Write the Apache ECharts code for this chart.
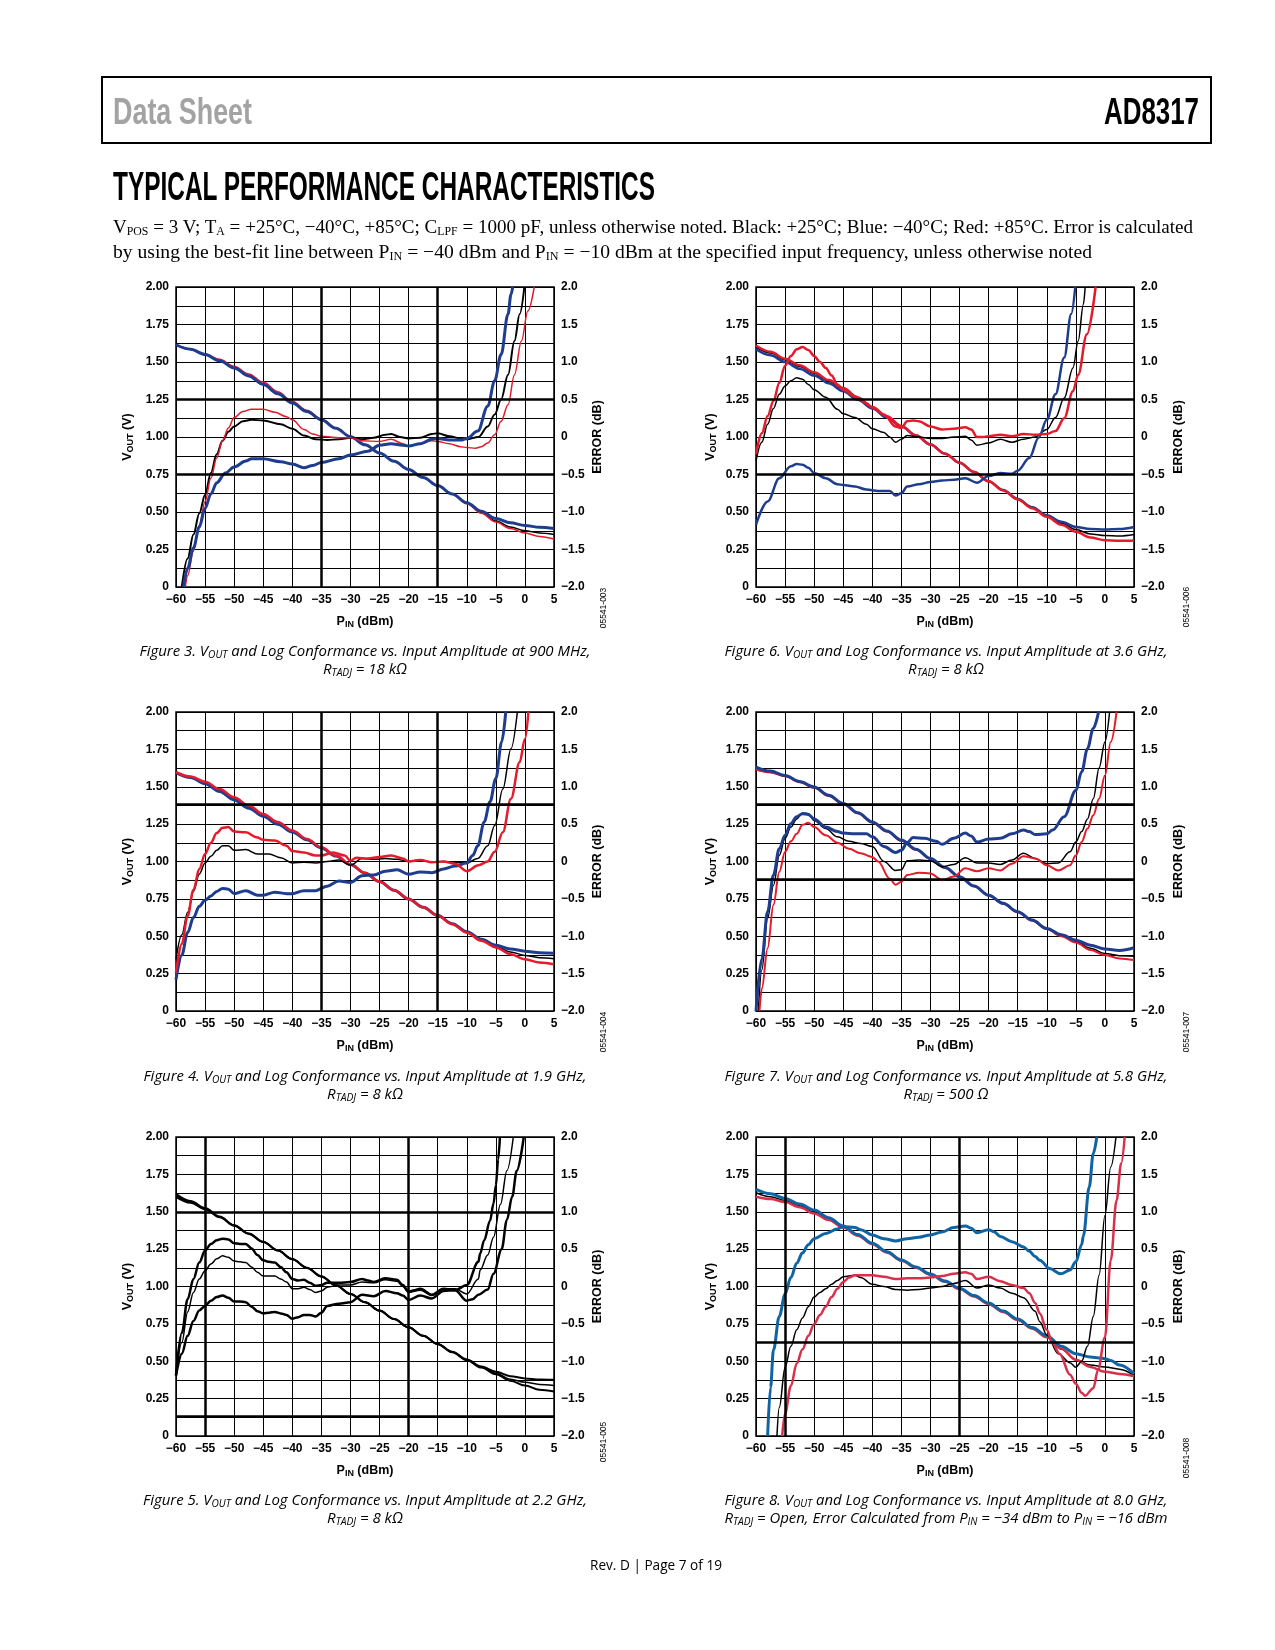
<!DOCTYPE html>
<html><head><meta charset="utf-8">
<script src="https://cdn.jsdelivr.net/npm/echarts@6/dist/echarts.min.js"></script>
<style>
html,body{margin:0;padding:0;background:#fff;}
#wrap{position:relative;width:1275px;height:1650px;overflow:hidden;background:#fff;}
#chart{position:absolute;left:0;top:0;width:1275px;height:1650px;}
#ov{position:absolute;left:0;top:0;width:1275px;height:1650px;pointer-events:none;}
</style></head>
<body><div id="wrap"><div id="chart"></div>
<svg id="ov" xmlns="http://www.w3.org/2000/svg" width="1275" height="1650"></svg></div>
<script>
// ---------------- axis ranges / ticks ----------------
const pinMin = -60, pinMax = 5, pinStep = 5;
const voutMin = 0, voutMax = 2, voutStep = 0.125;
const errMin = -2, errMax = 2, errStep = 0.25;

// ---------------- Figure 3 (900 MHz) ----------------
const f3_vout_black = [[-60,1.615],[-57.5,1.585],[-55,1.55],[-52.5,1.51],[-50,1.462],[-47.5,1.41],[-45,1.355],[-42.5,1.292],[-40,1.23],[-37.5,1.173],[-35,1.117],[-32.5,1.06],[-30,1.003],[-27.5,0.948],[-25,0.894],[-22.5,0.838],[-20,0.783],[-17.5,0.73],[-15,0.676],[-12.5,0.62],[-10,0.56],[-7.5,0.5],[-5,0.44],[-2.5,0.4],[0,0.375],[2.5,0.36],[5,0.35]];
const f3_vout_red = [[-60,1.615],[-57.5,1.587],[-55,1.553],[-52.5,1.518],[-50,1.472],[-47.5,1.42],[-45,1.366],[-42.5,1.302],[-40,1.238],[-37.5,1.178],[-35,1.12],[-32.5,1.062],[-30,1.003],[-27.5,0.948],[-25,0.894],[-22.5,0.838],[-20,0.783],[-17.5,0.73],[-15,0.676],[-12.5,0.62],[-10,0.555],[-7.5,0.492],[-5,0.433],[-2.5,0.39],[0,0.36],[2.5,0.337],[5,0.32]];
const f3_vout_blue = [[-60,1.615],[-57.5,1.585],[-55,1.55],[-52.5,1.508],[-50,1.46],[-47.5,1.407],[-45,1.35],[-42.5,1.288],[-40,1.226],[-37.5,1.17],[-35,1.115],[-32.5,1.058],[-30,1.002],[-27.5,0.948],[-25,0.894],[-22.5,0.838],[-20,0.783],[-17.5,0.73],[-15,0.676],[-12.5,0.62],[-10,0.562],[-7.5,0.505],[-5,0.457],[-2.5,0.428],[0,0.41],[2.5,0.398],[5,0.39]];
const f3_err_black = [[-59,-2.0],[-58,-1.62],[-57,-1.3],[-56,-1.02],[-55,-0.77],[-54,-0.48],[-53,-0.23],[-52,-0.05],[-51,0.07],[-50,0.14],[-48.5,0.21],[-47,0.23],[-45,0.22],[-42,0.17],[-40,0.11],[-38,0.02],[-36,-0.03],[-34,-0.04],[-32,-0.03],[-30,-0.01],[-28,-0.03],[-26,-0.01],[-24,0.03],[-23,0.04],[-21.5,0.0],[-20,-0.02],[-18,-0.01],[-16,0.04],[-15,0.05],[-13,0.01],[-11,-0.02],[-10,-0.03],[-8,0.0],[-6.4,0.14],[-5.2,0.3],[-4.1,0.5],[-2.9,0.83],[-1.8,1.28],[-0.9,1.64],[-0.1,2.0]];
const f3_err_red = [[-58.4,-2.0],[-58,-1.85],[-57,-1.52],[-56,-1.18],[-55,-0.86],[-54,-0.55],[-53,-0.28],[-52,-0.05],[-51,0.12],[-50,0.26],[-48.5,0.34],[-47,0.37],[-45,0.37],[-43,0.33],[-41,0.27],[-40,0.23],[-38,0.1],[-36.5,0.04],[-35,0.01],[-32,-0.01],[-30,-0.01],[-28,-0.05],[-25,-0.06],[-23,-0.03],[-21,-0.09],[-20,-0.12],[-18,-0.09],[-16,-0.05],[-15,-0.06],[-13,-0.09],[-11,-0.13],[-10,-0.14],[-8.5,-0.15],[-7.5,-0.13],[-6.4,-0.08],[-5.2,0.03],[-4.1,0.21],[-2.9,0.43],[-1.8,0.83],[-0.6,1.28],[0.5,1.68],[1.6,2.0]];
const f3_err_blue = [[-58.7,-2.0],[-58,-1.75],[-57,-1.48],[-56,-1.2],[-55,-0.95],[-54,-0.76],[-53,-0.61],[-51.5,-0.48],[-50,-0.4],[-48,-0.32],[-47,-0.29],[-45,-0.29],[-42,-0.33],[-40,-0.36],[-38,-0.41],[-36.5,-0.38],[-35,-0.34],[-32,-0.29],[-30,-0.24],[-27,-0.19],[-25,-0.11],[-23,-0.09],[-21,-0.11],[-20,-0.12],[-18,-0.09],[-16,-0.03],[-15,-0.02],[-13,-0.04],[-11,-0.04],[-10,-0.02],[-8.1,0.08],[-6.4,0.41],[-5.2,0.75],[-4.1,1.1],[-2.9,1.64],[-2.4,1.9],[-2.1,2.0]];
const f3_bold_vout = [1.25, 0.75];
const f3_bold_pin = [-35, -15];

// ---------------- Figure 6 (3.6 GHz) ----------------
const f6_vout_black = [[-60,1.6],[-57.5,1.56],[-55,1.515],[-52.5,1.47],[-50,1.425],[-47.5,1.372],[-45,1.318],[-42.5,1.257],[-40,1.196],[-37.5,1.134],[-35,1.072],[-32.5,1.011],[-30,0.95],[-27.5,0.889],[-25,0.828],[-22.5,0.767],[-20,0.705],[-17.5,0.644],[-15,0.583],[-12.5,0.527],[-10,0.472],[-7.5,0.425],[-5,0.383],[-2.5,0.354],[0,0.343],[2.5,0.34],[5,0.35]];
const f6_vout_red = [[-60,1.61],[-57.5,1.568],[-55,1.522],[-52.5,1.478],[-50,1.432],[-47.5,1.38],[-45,1.326],[-42.5,1.264],[-40,1.2],[-37.5,1.138],[-35,1.074],[-32.5,1.012],[-30,0.95],[-27.5,0.889],[-25,0.828],[-22.5,0.767],[-20,0.705],[-17.5,0.644],[-15,0.583],[-12.5,0.525],[-10,0.468],[-7.5,0.415],[-5,0.368],[-2.5,0.33],[0,0.312],[2.5,0.308],[5,0.31]];
const f6_vout_blue = [[-60,1.585],[-57.5,1.545],[-55,1.5],[-52.5,1.455],[-50,1.41],[-47.5,1.358],[-45,1.305],[-42.5,1.248],[-40,1.19],[-37.5,1.13],[-35,1.07],[-32.5,1.01],[-30,0.95],[-27.5,0.889],[-25,0.828],[-22.5,0.767],[-20,0.705],[-17.5,0.646],[-15,0.587],[-12.5,0.532],[-10,0.478],[-7.5,0.435],[-5,0.4],[-2.5,0.386],[0,0.383],[2.5,0.386],[5,0.4]];
const f6_err_black = [[-60,-0.32],[-59,-0.07],[-58,0.17],[-57,0.38],[-56,0.57],[-55,0.68],[-54,0.75],[-53,0.79],[-52,0.77],[-51,0.7],[-50,0.63],[-48,0.53],[-46,0.37],[-45,0.31],[-43,0.26],[-41,0.17],[-40,0.11],[-38,0.06],[-37,0.0],[-36,-0.07],[-35,-0.03],[-34,0.02],[-32,0.0],[-30,-0.02],[-28,-0.02],[-26,0.0],[-24,0.01],[-23,-0.04],[-22,-0.11],[-20,-0.08],[-18,-0.03],[-16,-0.07],[-14,-0.03],[-12,0.0],[-10,0.1],[-8.5,0.26],[-7,0.52],[-5.5,0.92],[-4.6,1.28],[-3.7,1.77],[-3.4,2.0]];
const f6_err_red = [[-60,-0.23],[-59,0.05],[-58,0.28],[-57,0.48],[-56,0.72],[-55,0.95],[-54,1.08],[-53,1.17],[-52,1.2],[-51,1.16],[-50,1.08],[-49,1.0],[-48,0.92],[-47,0.82],[-46,0.7],[-45,0.63],[-43,0.54],[-41,0.45],[-40,0.39],[-38,0.3],[-36,0.14],[-35,0.12],[-34,0.21],[-33,0.22],[-32,0.21],[-30,0.14],[-28,0.1],[-26,0.11],[-24,0.13],[-23,0.1],[-22,0.0],[-21,0.0],[-20,0.01],[-18,0.03],[-16,0.01],[-14,0.04],[-12,0.03],[-10,0.04],[-8.5,0.08],[-7,0.25],[-5.5,0.61],[-4.6,0.83],[-3.1,1.37],[-1.6,2.0]];
const f6_err_blue = [[-60,-1.17],[-58,-0.86],[-56,-0.55],[-54,-0.39],[-53,-0.36],[-52,-0.37],[-51,-0.41],[-50,-0.48],[-48,-0.55],[-46,-0.63],[-45,-0.64],[-43,-0.66],[-41,-0.7],[-39,-0.72],[-37,-0.72],[-36,-0.78],[-35,-0.75],[-34,-0.66],[-32,-0.63],[-30,-0.6],[-28,-0.58],[-26,-0.57],[-24,-0.55],[-22,-0.61],[-20,-0.52],[-18,-0.48],[-16,-0.49],[-15,-0.45],[-13,-0.28],[-11.4,-0.01],[-10,0.23],[-8.5,0.57],[-7,1.06],[-5.8,1.64],[-5.1,2.0]];
const f6_bold_vout = [1.25, 0.75];
const f6_bold_pin = [];

// ---------------- Figure 4 (1.9 GHz) ----------------
const f4_vout_black = [[-60,1.597],[-57.5,1.565],[-55,1.527],[-52.5,1.477],[-50,1.42],[-47.5,1.365],[-45,1.31],[-42.5,1.257],[-40,1.203],[-37.5,1.148],[-35,1.093],[-32.5,1.037],[-30,0.98],[-27.5,0.923],[-25,0.866],[-22.5,0.808],[-20,0.75],[-17.5,0.694],[-15,0.638],[-12.5,0.582],[-10,0.526],[-7.5,0.476],[-5,0.432],[-2.5,0.395],[0,0.372],[2.5,0.357],[5,0.35]];
const f4_vout_red = [[-60,1.597],[-57.5,1.568],[-55,1.533],[-52.5,1.485],[-50,1.43],[-47.5,1.374],[-45,1.318],[-42.5,1.264],[-40,1.208],[-37.5,1.151],[-35,1.095],[-32.5,1.038],[-30,0.98],[-27.5,0.923],[-25,0.866],[-22.5,0.808],[-20,0.75],[-17.5,0.694],[-15,0.638],[-12.5,0.581],[-10,0.524],[-7.5,0.47],[-5,0.425],[-2.5,0.38],[0,0.346],[2.5,0.325],[5,0.312]];
const f4_vout_blue = [[-60,1.595],[-57.5,1.562],[-55,1.52],[-52.5,1.468],[-50,1.412],[-47.5,1.357],[-45,1.302],[-42.5,1.25],[-40,1.197],[-37.5,1.145],[-35,1.091],[-32.5,1.036],[-30,0.98],[-27.5,0.923],[-25,0.866],[-22.5,0.808],[-20,0.75],[-17.5,0.694],[-15,0.639],[-12.5,0.584],[-10,0.53],[-7.5,0.48],[-5,0.44],[-2.5,0.415],[0,0.4],[2.5,0.39],[5,0.386]];
const f4_err_black = [[-60,-1.31],[-59,-0.98],[-58,-0.68],[-57,-0.4],[-56,-0.17],[-55,-0.02],[-54,0.07],[-53,0.15],[-52,0.21],[-51,0.21],[-50,0.15],[-48,0.16],[-46,0.1],[-44,0.1],[-42,0.05],[-40,-0.02],[-38,-0.01],[-36,-0.02],[-34,0.0],[-32,0.02],[-30,-0.05],[-28,0.04],[-26,0.03],[-24,0.04],[-22,0.03],[-20,0.0],[-18,0.02],[-16,-0.01],[-14,0.0],[-12,-0.01],[-10,-0.02],[-8.1,0.04],[-6.4,0.21],[-5.2,0.48],[-3.8,0.97],[-2.4,1.51],[-1.3,2.0]];
const f4_err_red = [[-60,-1.49],[-59,-1.1],[-58,-0.73],[-57,-0.38],[-56,-0.1],[-55,0.1],[-54,0.25],[-53,0.38],[-52,0.45],[-51,0.46],[-50,0.4],[-48,0.39],[-46,0.32],[-45,0.29],[-43,0.28],[-41,0.21],[-40,0.14],[-38,0.12],[-36,0.08],[-35,0.08],[-33,0.12],[-31,0.08],[-30,0.01],[-29,0.05],[-27,0.04],[-25,0.06],[-23,0.08],[-21,0.04],[-20,0.0],[-18,0.02],[-16,-0.01],[-14,0.0],[-12,-0.03],[-10,-0.13],[-8,-0.05],[-6.4,0.0],[-5.2,0.13],[-3.8,0.39],[-2.4,0.84],[-0.9,1.33],[0,1.64],[0.6,2.0]];
const f4_err_blue = [[-60,-1.58],[-59,-1.25],[-58,-0.95],[-57,-0.75],[-56,-0.6],[-55,-0.52],[-54,-0.46],[-53,-0.4],[-52,-0.36],[-51,-0.37],[-50,-0.43],[-48,-0.39],[-46,-0.45],[-45,-0.45],[-43,-0.41],[-41,-0.43],[-40,-0.43],[-38,-0.39],[-36,-0.39],[-34,-0.33],[-32,-0.26],[-30,-0.28],[-28,-0.19],[-26,-0.18],[-24,-0.13],[-22,-0.11],[-20,-0.17],[-18,-0.14],[-16,-0.15],[-14,-0.1],[-12,-0.06],[-10,-0.02],[-9,0.08],[-8.1,0.21],[-7,0.53],[-6,0.8],[-5,1.11],[-4,1.6],[-3.3,2.0]];
const f4_bold_vout = [1.375];
const f4_bold_pin = [-35, -15];

// ---------------- Figure 7 (5.8 GHz) ----------------
const f7_vout_black = [[-60,1.615],[-57.5,1.597],[-55,1.572],[-52.5,1.532],[-50,1.495],[-47.5,1.44],[-45,1.385],[-42.5,1.324],[-40,1.263],[-37.5,1.202],[-35,1.141],[-32.5,1.08],[-30,1.019],[-27.5,0.958],[-25,0.897],[-22.5,0.835],[-20,0.774],[-17.5,0.718],[-15,0.662],[-12.5,0.606],[-10,0.55],[-7.5,0.505],[-5,0.465],[-2.5,0.42],[0,0.385],[2.5,0.37],[5,0.367]];
const f7_vout_red = [[-60,1.615],[-57.5,1.595],[-55,1.57],[-52.5,1.53],[-50,1.493],[-47.5,1.438],[-45,1.383],[-42.5,1.322],[-40,1.261],[-37.5,1.2],[-35,1.139],[-32.5,1.078],[-30,1.017],[-27.5,0.956],[-25,0.895],[-22.5,0.834],[-20,0.773],[-17.5,0.717],[-15,0.661],[-12.5,0.604],[-10,0.548],[-7.5,0.5],[-5,0.458],[-2.5,0.408],[0,0.374],[2.5,0.352],[5,0.341]];
const f7_vout_blue = [[-60,1.632],[-57.5,1.605],[-55,1.575],[-52.5,1.535],[-50,1.499],[-47.5,1.443],[-45,1.388],[-42.5,1.326],[-40,1.265],[-37.5,1.204],[-35,1.143],[-32.5,1.082],[-30,1.02],[-27.5,0.96],[-25,0.898],[-22.5,0.836],[-20,0.775],[-17.5,0.72],[-15,0.664],[-12.5,0.608],[-10,0.552],[-7.5,0.51],[-5,0.474],[-2.5,0.44],[0,0.414],[2.5,0.405],[5,0.423]];
const f7_err_black = [[-59.6,-2.0],[-59,-1.45],[-58,-0.76],[-57,-0.32],[-56,0.08],[-55,0.31],[-54,0.46],[-53,0.57],[-52,0.65],[-51,0.64],[-50,0.55],[-48,0.44],[-46,0.33],[-44,0.27],[-42,0.24],[-40,0.2],[-38,0.0],[-36,-0.12],[-35,-0.11],[-34,0.01],[-32,0.02],[-30,0.01],[-28,-0.07],[-26,-0.04],[-24,0.05],[-22,-0.02],[-20,-0.02],[-18,-0.04],[-16,0.02],[-14,0.11],[-12,0.04],[-10,-0.03],[-8,-0.02],[-6,0.13],[-5,0.26],[-4,0.4],[-3,0.57],[-2,0.84],[-1,1.25],[0,1.6],[0.8,2.0]];
const f7_err_red = [[-59.4,-2.0],[-59,-1.7],[-58,-1.16],[-57,-0.58],[-56,-0.14],[-55,0.13],[-54,0.27],[-53,0.37],[-52,0.49],[-51,0.52],[-50,0.46],[-48,0.35],[-46,0.25],[-44,0.17],[-42,0.11],[-40,0.06],[-39,0.0],[-37,-0.23],[-36,-0.31],[-35,-0.27],[-34,-0.18],[-32,-0.15],[-30,-0.16],[-28,-0.25],[-26,-0.2],[-24,-0.09],[-22,-0.13],[-20,-0.09],[-18,-0.12],[-16,-0.03],[-14,0.07],[-12,0.04],[-10,-0.05],[-8,-0.12],[-6,-0.05],[-5,0.08],[-4,0.26],[-3,0.44],[-2,0.62],[-1,0.84],[0,1.15],[1,1.6],[2,2.0]];
const f7_err_blue = [[-60,-2.0],[-59,-1.3],[-58,-0.67],[-57,-0.18],[-56,0.17],[-55,0.35],[-54,0.51],[-53,0.6],[-52,0.64],[-51,0.63],[-50,0.57],[-48,0.46],[-46,0.4],[-45,0.38],[-43,0.37],[-41,0.37],[-40,0.33],[-38,0.2],[-36,0.12],[-35,0.15],[-34,0.25],[-33,0.32],[-31,0.31],[-29,0.27],[-28,0.23],[-26,0.31],[-24,0.38],[-23,0.34],[-22,0.26],[-20,0.3],[-18,0.31],[-16,0.37],[-14,0.42],[-13,0.4],[-12,0.36],[-10,0.37],[-9,0.42],[-7,0.6],[-5,0.95],[-4,1.2],[-3,1.51],[-2,1.78],[-1.1,2.0]];
const f7_bold_vout = [1.375, 0.875];
const f7_bold_pin = [];

// ---------------- Figure 5 (2.2 GHz, monochrome) ----------------
const f5_vout_a = [[-60,1.62],[-57.5,1.572],[-55,1.525],[-52.5,1.468],[-50,1.41],[-47.5,1.355],[-45,1.299],[-42.5,1.242],[-40,1.184],[-37.5,1.126],[-35,1.068],[-32.5,1.009],[-30,0.95],[-27.5,0.895],[-25,0.839],[-22.5,0.783],[-20,0.727],[-17.5,0.671],[-15,0.616],[-12.5,0.563],[-10,0.512],[-7.5,0.465],[-5,0.43],[-2.5,0.4],[0,0.385],[2.5,0.378],[5,0.376]];
const f5_vout_b = [[-60,1.61],[-57.5,1.566],[-55,1.521],[-52.5,1.466],[-50,1.409],[-47.5,1.354],[-45,1.298],[-42.5,1.241],[-40,1.183],[-37.5,1.125],[-35,1.067],[-32.5,1.008],[-30,0.95],[-27.5,0.895],[-25,0.839],[-22.5,0.783],[-20,0.727],[-17.5,0.671],[-15,0.616],[-12.5,0.562],[-10,0.51],[-7.5,0.462],[-5,0.42],[-2.5,0.38],[0,0.36],[2.5,0.345],[5,0.338]];
const f5_vout_c = [[-60,1.6],[-57.5,1.56],[-55,1.517],[-52.5,1.463],[-50,1.407],[-47.5,1.352],[-45,1.297],[-42.5,1.24],[-40,1.182],[-37.5,1.124],[-35,1.066],[-32.5,1.007],[-30,0.949],[-27.5,0.894],[-25,0.838],[-22.5,0.782],[-20,0.726],[-17.5,0.67],[-15,0.614],[-12.5,0.56],[-10,0.507],[-7.5,0.458],[-5,0.413],[-2.5,0.37],[0,0.338],[2.5,0.31],[5,0.298]];
const f5_err_a = [[-60,-1.19],[-59,-0.62],[-58,-0.17],[-57,0.1],[-56,0.32],[-55,0.48],[-54,0.57],[-53,0.62],[-52,0.64],[-51,0.63],[-50,0.58],[-49,0.57],[-48,0.57],[-47,0.51],[-46,0.42],[-45,0.35],[-44,0.33],[-43,0.32],[-42,0.26],[-41,0.19],[-40,0.1],[-39,0.08],[-38,0.09],[-37,0.05],[-36,0.01],[-35,0.02],[-34,0.05],[-32,0.05],[-30,0.06],[-28,0.1],[-27,0.08],[-26,0.06],[-24,0.11],[-22,0.09],[-21,0.02],[-20,-0.07],[-19,-0.05],[-18,-0.03],[-16,-0.11],[-14,-0.03],[-12,-0.05],[-10,-0.19],[-9,-0.17],[-8,-0.11],[-6.4,-0.04],[-5.4,0.17],[-4,0.5],[-3.1,0.89],[-2.2,1.2],[-1.4,1.55],[-0.2,2.0]];
const f5_err_b = [[-60,-1.19],[-59,-0.75],[-58,-0.34],[-57,-0.08],[-56,0.1],[-55,0.21],[-54,0.3],[-53,0.37],[-52,0.41],[-51,0.39],[-50,0.34],[-49,0.33],[-48,0.32],[-47,0.26],[-46,0.19],[-45,0.14],[-44,0.14],[-43,0.14],[-42,0.1],[-41,0.06],[-40,-0.03],[-39,-0.03],[-38,-0.01],[-37,-0.04],[-36,-0.08],[-35,-0.06],[-34,-0.01],[-32,0.02],[-30,0.02],[-28,0.06],[-26,0.05],[-24,0.09],[-22,0.07],[-21,0.0],[-20,-0.08],[-18,-0.05],[-16,-0.12],[-14,-0.03],[-12,-0.03],[-10,-0.1],[-8,0.1],[-7.7,0.22],[-6.4,0.42],[-5.4,0.66],[-4.2,1.1],[-3.1,1.55],[-2.0,2.0]];
const f5_err_c = [[-60,-1.19],[-59,-0.9],[-58,-0.66],[-57,-0.46],[-56,-0.32],[-55,-0.26],[-54,-0.19],[-53,-0.14],[-52,-0.12],[-51,-0.15],[-50,-0.2],[-49,-0.2],[-48,-0.21],[-47,-0.27],[-46,-0.33],[-45,-0.36],[-44,-0.35],[-43,-0.34],[-42,-0.36],[-41,-0.38],[-40,-0.43],[-39,-0.41],[-38,-0.38],[-37,-0.38],[-36,-0.4],[-35,-0.35],[-34,-0.26],[-32,-0.23],[-30,-0.21],[-28,-0.11],[-26,-0.13],[-24,-0.06],[-22,-0.09],[-21,-0.12],[-20,-0.18],[-18,-0.12],[-16,-0.16],[-14,-0.06],[-12,-0.05],[-10,0.02],[-8,0.33],[-7.7,0.44],[-7,0.62],[-6,0.88],[-5.4,1.11],[-5,1.35],[-4.6,1.7],[-4.3,2.0]];
const f5_bold_vout = [1.5, 0.125];
const f5_bold_pin = [-55, -20];

// ---------------- Figure 8 (8.0 GHz) ----------------
const f8_vout_black = [[-60,1.627],[-57.5,1.6],[-55,1.575],[-52.5,1.54],[-50,1.5],[-47.5,1.452],[-45,1.398],[-42.5,1.342],[-40,1.285],[-37.5,1.23],[-35,1.175],[-32.5,1.128],[-30,1.081],[-27.5,1.033],[-25,0.985],[-22.5,0.935],[-20,0.885],[-17.5,0.832],[-15,0.778],[-12.5,0.72],[-10,0.662],[-7.5,0.58],[-5,0.51],[-2.5,0.475],[0,0.462],[2.5,0.447],[5,0.406]];
const f8_vout_red = [[-60,1.6],[-57.5,1.585],[-55,1.565],[-52.5,1.53],[-50,1.489],[-47.5,1.445],[-45,1.395],[-42.5,1.34],[-40,1.283],[-37.5,1.228],[-35,1.173],[-32.5,1.126],[-30,1.079],[-27.5,1.031],[-25,0.983],[-22.5,0.933],[-20,0.882],[-17.5,0.83],[-15,0.776],[-12.5,0.718],[-10,0.66],[-7.5,0.585],[-5,0.51],[-2.5,0.462],[0,0.43],[2.5,0.415],[5,0.4]];
const f8_vout_blue = [[-60,1.649],[-57.5,1.62],[-55,1.589],[-52.5,1.552],[-50,1.511],[-47.5,1.46],[-45,1.404],[-42.5,1.347],[-40,1.289],[-37.5,1.233],[-35,1.178],[-32.5,1.131],[-30,1.084],[-27.5,1.036],[-25,0.989],[-22.5,0.939],[-20,0.889],[-17.5,0.836],[-15,0.782],[-12.5,0.725],[-10,0.67],[-7.5,0.6],[-5,0.551],[-2.5,0.528],[-1,0.522],[0,0.517],[1,0.505],[2.5,0.475],[5,0.417]];
const f8_err_black = [[-56.4,-2.0],[-56,-1.62],[-55,-1.08],[-54,-0.8],[-53,-0.58],[-52,-0.42],[-51,-0.27],[-50,-0.14],[-49,-0.08],[-48,-0.03],[-47,0.03],[-46,0.08],[-45,0.13],[-43,0.15],[-42,0.12],[-40,0.03],[-38,0.0],[-36,-0.04],[-34,-0.05],[-32,-0.04],[-30,-0.02],[-28,0.0],[-26,0.04],[-24,0.08],[-22,-0.02],[-20,0.02],[-18,-0.02],[-16,-0.09],[-14,-0.15],[-12,-0.33],[-11.2,-0.47],[-10,-0.65],[-8,-0.9],[-6,-1.02],[-5,-1.08],[-4,-1.0],[-3,-0.8],[-2,-0.4],[-1,0.15],[0,0.95],[1,1.6],[1.9,2.0]];
const f8_err_red = [[-55.5,-2.0],[-55,-1.7],[-54,-1.33],[-53,-1.03],[-52,-0.84],[-51,-0.66],[-50,-0.5],[-49,-0.38],[-48,-0.27],[-47,-0.14],[-46,-0.03],[-45,0.06],[-44,0.12],[-43,0.15],[-40,0.15],[-38,0.13],[-36,0.1],[-34,0.11],[-32,0.11],[-30,0.12],[-28,0.14],[-26,0.17],[-24,0.19],[-23,0.17],[-22,0.1],[-20,0.13],[-18,0.07],[-16,0.02],[-14,-0.02],[-13,-0.09],[-12,-0.22],[-11.2,-0.36],[-10,-0.58],[-9,-0.76],[-7.8,-0.9],[-6,-1.18],[-5,-1.3],[-4,-1.42],[-3.4,-1.46],[-2,-1.36],[-1.2,-1.12],[0,-0.68],[1,0.35],[2,1.15],[2.8,1.65],[3.4,2.0]];
const f8_err_blue = [[-58,-2.0],[-57.5,-1.35],[-57,-0.85],[-56,-0.4],[-55,-0.1],[-54,0.12],[-53,0.31],[-52,0.45],[-51,0.56],[-50,0.64],[-48,0.71],[-46,0.77],[-45,0.8],[-43,0.79],[-42,0.76],[-40,0.69],[-38,0.64],[-36,0.61],[-34,0.64],[-32,0.66],[-30,0.69],[-28,0.73],[-26,0.79],[-24,0.81],[-23,0.78],[-22,0.72],[-20,0.76],[-19,0.73],[-18,0.67],[-16,0.6],[-14,0.53],[-13,0.47],[-12,0.4],[-11.2,0.35],[-9.5,0.24],[-7.6,0.17],[-6,0.22],[-5,0.33],[-4,0.56],[-3.7,0.68],[-2.7,1.33],[-2,1.78],[-1.4,2.0]];
const f8_bold_vout = [0.625];
const f8_bold_pin = [-55, -25];

// ---------------- styling ----------------
const F = "'Liberation Sans', Arial, Helvetica, sans-serif";
const K = '#000000', R = '#e31b2b', B = '#1f3d8f', R8 = '#d8304a', B8 = '#0f64a4';

const figs = [
  {box:[176,287,378,300], gapL:41, gapR:37, boldV:f3_bold_vout, boldP:f3_bold_pin, lines:[
    [f3_vout_black,'v',K,1.5],[f3_vout_red,'v',R,1.5],[f3_vout_blue,'v',B,3],
    [f3_err_black,'e',K,2],[f3_err_red,'e',R,1.5],[f3_err_blue,'e',B,3]]},
  {box:[756,287,378,300], gapL:38, gapR:38, boldV:f6_bold_vout, boldP:f6_bold_pin, lines:[
    [f6_vout_black,'v',K,1.5],[f6_vout_blue,'v',B,2.5],[f6_vout_red,'v',R,2.5],
    [f6_err_black,'e',K,1.5],[f6_err_blue,'e',B,2.5],[f6_err_red,'e',R,2.5]]},
  {box:[176,712,378,299], gapL:41, gapR:37, boldV:f4_bold_vout, boldP:f4_bold_pin, lines:[
    [f4_vout_black,'v',K,1.5],[f4_vout_blue,'v',B,3],[f4_vout_red,'v',R,2.5],
    [f4_err_black,'e',K,1.5],[f4_err_blue,'e',B,3],[f4_err_red,'e',R,2.5]]},
  {box:[756,712,378,299], gapL:38, gapR:38, boldV:f7_bold_vout, boldP:f7_bold_pin, lines:[
    [f7_vout_black,'v',K,1.5],[f7_vout_red,'v',R,2],[f7_vout_blue,'v',B,3],
    [f7_err_black,'e',K,1.5],[f7_err_red,'e',R,2],[f7_err_blue,'e',B,3]]},
  {box:[176,1137,378,299], gapL:41, gapR:37, boldV:f5_bold_vout, boldP:f5_bold_pin, lines:[
    [f5_vout_a,'v',K,2],[f5_vout_b,'v',K,1.5],[f5_vout_c,'v',K,2],
    [f5_err_a,'e',K,2.5],[f5_err_b,'e',K,1.5],[f5_err_c,'e',K,2.5]]},
  {box:[756,1137,378,299], gapL:38, gapR:38, boldV:f8_bold_vout, boldP:f8_bold_pin, lines:[
    [f8_vout_black,'v',K,1.5],[f8_vout_red,'v',R8,2.5],[f8_vout_blue,'v',B8,3],
    [f8_err_black,'e',K,1.5],[f8_err_red,'e',R8,2.5],[f8_err_blue,'e',B8,3]]}
];

const minus = s => String(s).replace('-', '\u2212');
const near = (v, step) => Math.abs(v / step - Math.round(v / step)) < 1e-6;
const labelStyle = {color:'#000', fontFamily:F, fontWeight:'bold', fontSize:12};
const rich = {
  b:{fontFamily:F, fontWeight:'bold', fontSize:12.5, color:'#000'},
  s:{fontFamily:F, fontWeight:'bold', fontSize:9, color:'#000', padding:[6,0,0,0]}
};

const grid = [], xAxis = [], yAxis = [], series = [];
figs.forEach((f, i) => {
  grid.push({left:f.box[0], top:f.box[1], width:f.box[2], height:f.box[3], show:true,
    borderColor:'#000', borderWidth:1.5, backgroundColor:'rgba(0,0,0,0)'});
  xAxis.push({gridIndex:i, type:'value', min:pinMin, max:pinMax, interval:pinStep,
    axisLine:{show:false}, axisTick:{show:false},
    splitLine:{show:true, lineStyle:{color:'#000', width:1}},
    axisLabel:Object.assign({margin:7, formatter:v => minus(v)}, labelStyle),
    name:'{b|P}{s|IN}{b| (dBm)}', nameLocation:'middle', nameGap:27, nameTextStyle:{rich}});
  yAxis.push({gridIndex:i, type:'value', position:'left', min:voutMin, max:voutMax, interval:voutStep,
    axisLine:{show:false}, axisTick:{show:false},
    splitLine:{show:true, lineStyle:{color:'#000', width:1}},
    axisLabel:Object.assign({margin:7, formatter:v => v === 0 ? '0' : (near(v,0.25) ? v.toFixed(2) : '')}, labelStyle),
    name:'{b|V}{s|OUT}{b| (V)}', nameLocation:'middle', nameRotate:90, nameGap:f.gapL, nameTextStyle:{rich}});
  yAxis.push({gridIndex:i, type:'value', position:'right', min:errMin, max:errMax, interval:errStep,
    axisLine:{show:false}, axisTick:{show:false}, splitLine:{show:false},
    axisLabel:Object.assign({margin:7, formatter:v => v === 0 ? '0' : (near(v,0.5) ? (v < 0 ? '\u2212' : '') + Math.abs(v).toFixed(1) : '')}, labelStyle),
    name:'ERROR (dB)', nameLocation:'middle', nameRotate:90, nameGap:f.gapR,
    nameTextStyle:{fontFamily:F, fontWeight:'bold', fontSize:12.5, color:'#000'}});
  series.push({type:'line', xAxisIndex:i, yAxisIndex:2*i, data:[], silent:true, z:1,
    markLine:{silent:true, symbol:['none','none'], label:{show:false}, animation:false,
      lineStyle:{color:'#000', width:2.5, type:'solid'},
      emphasis:{disabled:true},
      data:[...f.boldV.map(v => ({yAxis:v})), ...f.boldP.map(p => ({xAxis:p}))]}});
  f.lines.forEach(([data, ax, color, width]) => {
    series.push({type:'line', xAxisIndex:i, yAxisIndex: ax === 'v' ? 2*i : 2*i+1, data,
      showSymbol:false, symbol:'none', smooth:0.35, smoothMonotone:'x', clip:true, silent:true, z:3,
      lineStyle:{color, width}});
  });
});

const chart = echarts.init(document.getElementById('chart'), null, {renderer:'canvas'});
chart.setOption({animation:false, backgroundColor:'#fff', grid, xAxis, yAxis, series});

// ---------------- page text (SVG overlay) ----------------
const NS = 'http://www.w3.org/2000/svg';
const svg = document.getElementById('ov');
function addText(str, x, y, o) {
  const t = document.createElementNS(NS, 'text');
  t.setAttribute('x', x); t.setAttribute('y', y);
  t.setAttribute('font-family', o.family); t.setAttribute('font-size', o.size);
  t.setAttribute('style', 'white-space:pre');
  if (o.weight) t.setAttribute('font-weight', o.weight);
  if (o.italic) t.setAttribute('font-style', 'italic');
  t.setAttribute('fill', o.fill || '#000');
  if (o.anchor) t.setAttribute('text-anchor', o.anchor);
  if (o.len) { t.setAttribute('textLength', o.len); t.setAttribute('lengthAdjust', 'spacingAndGlyphs'); }
  if (o.rotate) t.setAttribute('transform', `rotate(${o.rotate} ${x} ${y})`);
  const sub = o.sub || 0.68, dy = o.dy || 0.16;
  let low = false;
  str.split(/(_\{[^}]*\})/).forEach(p => {
    if (!p) return;
    const ts = document.createElementNS(NS, 'tspan');
    if (p.startsWith('_{')) {
      ts.textContent = p.slice(2, -1); ts.setAttribute('font-size', o.size * sub);
      ts.setAttribute('dy', o.size * dy); low = true;
    } else {
      ts.textContent = p;
      if (low) { ts.setAttribute('dy', -o.size * dy); low = false; }
    }
    t.appendChild(ts);
  });
  svg.appendChild(t);
}
const box = document.createElementNS(NS, 'rect');
box.setAttribute('x', 102); box.setAttribute('y', 77); box.setAttribute('width', 1109); box.setAttribute('height', 66);
box.setAttribute('fill', 'none'); box.setAttribute('stroke', '#000'); box.setAttribute('stroke-width', 2);
svg.appendChild(box);

addText('Data Sheet', 113, 124, {family:F, size:37, weight:'bold', fill:'#a3a3a3', len:139});
addText('AD8317', 1199, 124, {family:F, size:37, weight:'bold', anchor:'end', len:95});
addText('TYPICAL PERFORMANCE CHARACTERISTICS', 113, 200, {family:F, size:40, weight:'bold', len:542});
const SER = "'Liberation Serif', 'Times New Roman', serif";
addText('V_{POS} = 3 V; T_{A} = +25°C, \u221240°C, +85°C; C_{LPF} = 1000 pF, unless otherwise noted. Black: +25°C; Blue: \u221240°C; Red: +85°C. Error is calculated', 113, 233, {family:SER, size:19, len:1080, sub:0.62, dy:0.08});
addText('by using the best-fit line between P_{IN} = \u221240 dBm and P_{IN} = \u221210 dBm at the specified input frequency, unless otherwise noted', 113, 258, {family:SER, size:19, len:979, sub:0.62, dy:0.08});

const CAP = "'Open Sans', 'Noto Sans', sans-serif";
const captions = [
  [365, 656, 451, 'Figure 3. V_{OUT} and Log Conformance vs. Input Amplitude at 900 MHz,', 'R_{TADJ} = 18 k\u03A9', 0],
  [946, 656, 443, 'Figure 6. V_{OUT} and Log Conformance vs. Input Amplitude at 3.6 GHz,', 'R_{TADJ} = 8 k\u03A9', 0],
  [365, 1081, 443, 'Figure 4. V_{OUT} and Log Conformance vs. Input Amplitude at 1.9 GHz,', 'R_{TADJ} = 8 k\u03A9', 0],
  [946, 1081, 443, 'Figure 7. V_{OUT} and Log Conformance vs. Input Amplitude at 5.8 GHz,', 'R_{TADJ} = 500 \u03A9', 0],
  [365, 1505, 444, 'Figure 5. V_{OUT} and Log Conformance vs. Input Amplitude at 2.2 GHz,', 'R_{TADJ} = 8 k\u03A9', 0],
  [946, 1505, 443, 'Figure 8. V_{OUT} and Log Conformance vs. Input Amplitude at 8.0 GHz,', 'R_{TADJ} = Open, Error Calculated from P_{IN} = \u221234 dBm to P_{IN} = \u221216 dBm', 443]
];
captions.forEach(([cx, y, len, l1, l2, len2]) => {
  addText(l1, cx, y, {family:CAP, size:15, italic:true, anchor:'middle', len});
  const o2 = {family:CAP, size:15, italic:true, anchor:'middle'};
  if (len2) o2.len = len2;
  addText(l2, cx, y + 18, o2);
});

const codes = [[603, 608, '05541-003'], [1186, 607, '05541-006'], [603, 1032, '05541-004'],
               [1186, 1032, '05541-007'], [603, 1442, '05541-005'], [1186, 1458, '05541-008']];
codes.forEach(([x, y, s]) => addText(s, x + 3, y, {family:F, size:8.5, anchor:'middle', rotate:-90}));

addText('Rev. D | Page 7 of 19', 656, 1570, {family:CAP, size:14, anchor:'middle', len:132});
</script>
</body></html>
